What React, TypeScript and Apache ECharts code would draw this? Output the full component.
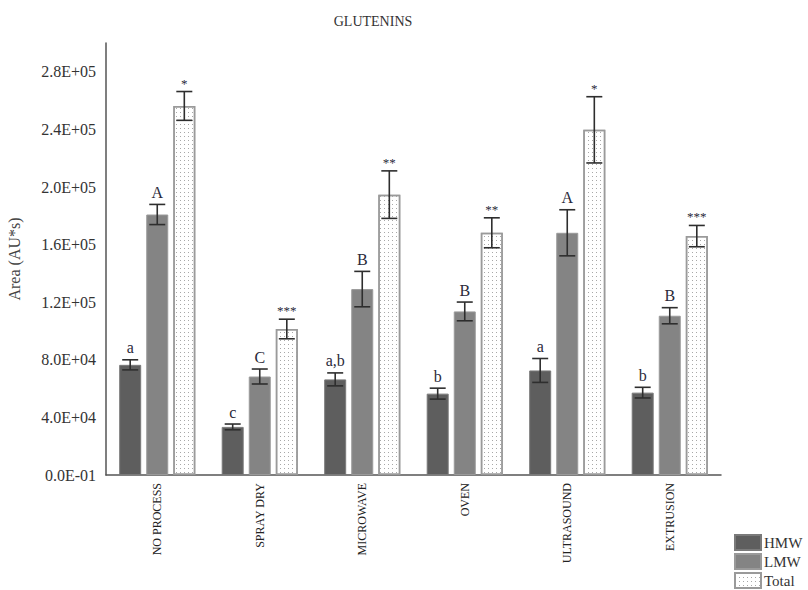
import React, { useEffect, useRef } from "react";
import * as echarts from "echarts";

const categories = ["NO PROCESS", "SPRAY DRY", "MICROWAVE", "OVEN", "ULTRASOUND", "EXTRUSION"];
const hmw = [76500, 33400, 66400, 56500, 72600, 57200];
const hmwErr = [3500, 2000, 4500, 3800, 8300, 3700];
const lmw = [180900, 68400, 129100, 113600, 168200, 110600];
const lmwErr = [7000, 5200, 12300, 6500, 16000, 5600];
const total = [256300, 101400, 194700, 168200, 239700, 165900];
const totalErr = [10000, 6800, 16500, 10400, 23000, 7400];
const hmwLetters = ["a", "c", "a,b", "b", "a", "b"];
const lmwLetters = ["A", "C", "B", "B", "A", "B"];
const totalMarks = ["*", "***", "**", "**", "*", "***"];
const seriesNames = ["HMW", "LMW", "Total"];

const SERIF = "'Liberation Serif', 'Times New Roman', serif";
const BAR_W = 22;
const GAP_RATIO = 0.23;

function fmt(v: number): string {
  if (v === 0) return "0.0E-01";
  if (v > 280000) return "";
  const e = Math.floor(Math.log10(v));
  const m = v / Math.pow(10, e);
  return m.toFixed(1) + "E+" + String(e).padStart(2, "0");
}

export default function App() {
  const ref = useRef<HTMLDivElement>(null);
  useEffect(() => {
    if (!ref.current) return;
    const chart = echarts.init(ref.current, undefined, { renderer: "svg" });
    const values = [hmw, lmw, total];
    const errs = [hmwErr, lmwErr, totalErr];
    const marks = [hmwLetters, lmwLetters, totalMarks];
    const barStyles = [
      { color: "#5e5e5e", borderColor: "#7a7a7a", borderWidth: 1 },
      { color: "#848484", borderColor: "#9a9a9a", borderWidth: 1 },
      {
        color: "#ffffff",
        borderColor: "#9a9a9a",
        borderWidth: 1.5,
        decal: {
          symbol: "rect",
          symbolSize: 1,
          color: "#a8a8a8",
          backgroundColor: "#ffffff",
          dashArrayX: [[1, 3]],
          dashArrayY: [1, 3],
        },
      },
    ];
    const barSeries = seriesNames.map((name, i) => ({
      name,
      type: "bar",
      data: values[i],
      barWidth: BAR_W,
      barGap: GAP_RATIO * 100 + "%",
      itemStyle: barStyles[i],
      emphasis: { disabled: true },
    }));
    const errSeries = seriesNames.map((name, i) => ({
      name: "err-" + name,
      type: "custom",
      z: 5,
      data: values[i].map((v, j) => [j, v, errs[i][j]]),
      encode: { x: 0, y: 1 },
      renderItem: (params: any, api: any) => {
        const idx = api.value(0);
        const v = api.value(1);
        const e = api.value(2);
        const offset = (i - 1) * (BAR_W * (1 + GAP_RATIO));
        const x = api.coord([idx, v])[0] + offset;
        const yHi = api.coord([idx, v + e])[1];
        const yLo = api.coord([idx, v - e])[1];
        const cap = 8;
        const ls = { stroke: "#2e2e2e", lineWidth: 1.6 };
        const isStar = i === 2;
        return {
          type: "group",
          children: [
            { type: "line", shape: { x1: x, y1: yHi, x2: x, y2: yLo }, style: ls },
            { type: "line", shape: { x1: x - cap, y1: yHi, x2: x + cap, y2: yHi }, style: ls },
            { type: "line", shape: { x1: x - cap, y1: yLo, x2: x + cap, y2: yLo }, style: ls },
            {
              type: "text",
              x,
              y: yHi - (isStar ? 2 : 4),
              style: {
                text: marks[i][idx],
                align: "center",
                verticalAlign: "bottom",
                fontFamily: SERIF,
                fontSize: isStar ? 13 : 16,
                fill: "#2a2a3a",
              },
            },
          ],
        };
      },
    }));
    const legendTops = [534, 553, 572];
    const legends = seriesNames.map((name, i) => ({
      data: [name],
      orient: "vertical",
      left: 734,
      top: legendTops[i],
      padding: 0,
      icon: "rect",
      itemWidth: 26,
      itemHeight: 15,
      selectedMode: false,
      textStyle: { fontFamily: SERIF, fontSize: 15, color: "#333", padding: [0, 0, 0, -2] },
    }));
    chart.setOption({
      animation: false,
      title: {
        text: "GLUTENINS",
        left: 368,
        top: 9,
        textAlign: "center",
        textStyle: { fontFamily: SERIF, fontSize: 14, fontWeight: "normal", color: "#333" },
      },
      legend: legends,
      grid: {
        left: 106,
        right: 87,
        top: 43,
        bottom: 115,
        containLabel: false,
        outerBoundsMode: "none",
      },
      xAxis: {
        type: "category",
        data: categories,
        name: "Process",
        nameLocation: "middle",
        nameGap: 118,
        nameTextStyle: { fontFamily: SERIF, fontSize: 16, color: "#444" },
        axisLine: { lineStyle: { color: "#555", width: 1.5 } },
        axisTick: { show: false },
        axisLabel: {
          interval: 0,
          rotate: 90,
          margin: 8,
          fontFamily: SERIF,
          fontSize: 12,
          color: "#222",
        },
      },
      yAxis: {
        type: "value",
        min: 0,
        max: 300000,
        interval: 40000,
        name: "Area (AU*s)",
        nameLocation: "middle",
        nameGap: 84,
        nameTextStyle: { fontFamily: SERIF, fontSize: 16, color: "#444" },
        axisLine: { show: true, lineStyle: { color: "#555", width: 1.5 } },
        axisTick: { show: false },
        splitLine: { show: false },
        axisLabel: {
          formatter: fmt,
          margin: 10,
          fontFamily: SERIF,
          fontSize: 16,
          color: "#333",
        },
      },
      series: [...barSeries, ...errSeries],
    });
    return () => chart.dispose();
  }, []);
  return (
    <div
      ref={ref}
      style={{ position: "absolute", left: 0, top: 0, width: 808, height: 590 }}
    />
  );
}
